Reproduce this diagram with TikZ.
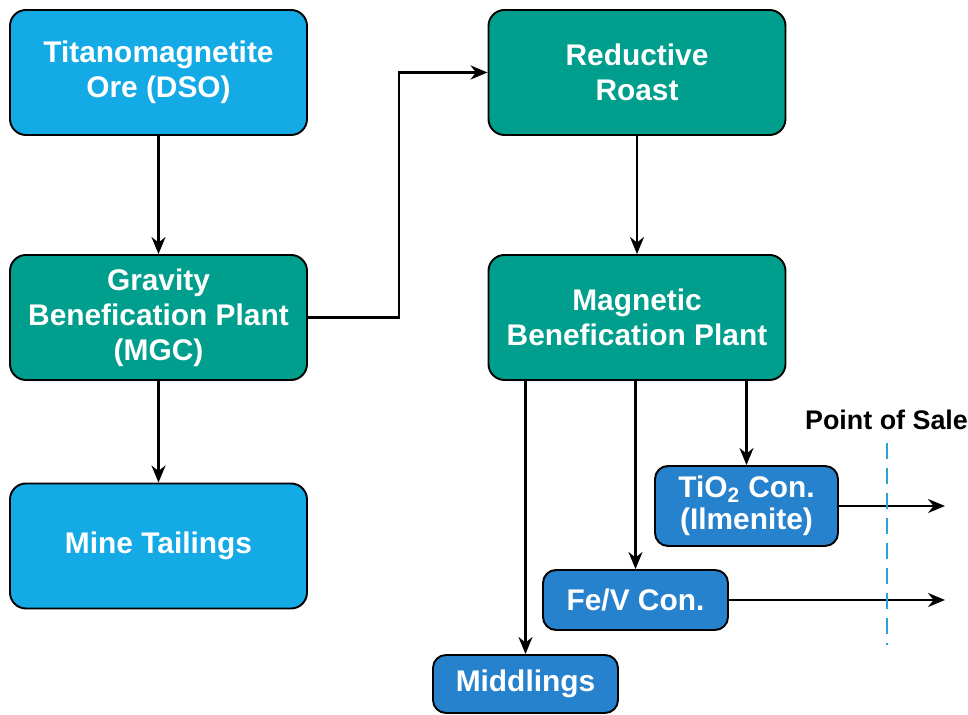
\documentclass[tikz,border=0pt]{standalone}
\usepackage{fontspec}
\setmainfont{Liberation Sans}
\usetikzlibrary{arrows.meta}
\definecolor{oreblue}{RGB}{20,170,230}
\definecolor{plantteal}{RGB}{0,158,140}
\definecolor{prodblue}{RGB}{38,130,204}
\definecolor{saleblue}{RGB}{40,165,215}

\begin{document}
\begin{tikzpicture}[
    >={Stealth[length=3.4mm,width=2.8mm]},
    flow/.style={->, draw=black, line width=1.4pt},
    box/.style={draw=black, line width=1.1pt, rounded corners=0.32cm, text=white,
        font=\fontsize{17}{20}\selectfont\bfseries, align=center, inner sep=0pt},
    bigbox/.style={box, minimum width=5.94cm, minimum height=2.5cm},
    smallbox/.style={box, rounded corners=0.26cm, minimum width=3.7cm}
  ]
    \useasboundingbox (0,0) rectangle (19.36,14.3);
    % left column
    \node[bigbox, fill=oreblue] (ore) at (3.17,12.85) {Titanomagnetite\\Ore (DSO)};
    \node[bigbox, fill=plantteal] (grav) at (3.17,7.95) {Gravity\\Benefication Plant\\(MGC)};
    \node[bigbox, fill=oreblue] (tail) at (3.17,3.38) {Mine Tailings};
    % right column
    \node[bigbox, fill=plantteal] (roast) at (12.74,12.85) {Reductive\\Roast};
    \node[bigbox, fill=plantteal] (mag) at (12.74,7.95) {Magnetic\\Benefication Plant};
    % products
    \node[smallbox, fill=prodblue, minimum height=1.6cm, minimum width=3.66cm,
        font=\fontsize{17}{18.5}\selectfont\bfseries] (tio) at (14.93,4.18) {TiO\textsubscript{2} Con.\\(Ilmenite)};
    \node[smallbox, fill=prodblue, minimum height=1.2cm] (fev) at (12.71,2.3) {Fe/V Con.};
    \node[smallbox, fill=prodblue, minimum height=1.16cm] (mid) at (10.51,0.62) {Middlings};
    \node[inner sep=0pt, font=\fontsize{15.3}{17}\selectfont\bfseries] (sale) at (17.73,5.9) {Point of Sale};
    \coordinate (out) at (18.9,0);
    \coordinate (pos top) at (17.74,5.44);
    \coordinate (pos bot) at (17.74,1.4);

    \draw[flow] (ore) -- (grav);
    \draw[flow] (grav) -- (tail);
    \draw[flow] (grav.east) -- ++(1.82,0) |- (roast.west);
    \draw[flow] (roast) -- (mag);
    \draw[flow] (mag.south -| mid.north) -- (mid.north);
    \draw[flow] (mag.south -| fev.north) -- (fev.north);
    \draw[flow] (mag.south -| tio.north) -- (tio.north);
    \draw[flow] (tio.east) -- (tio.east -| out);
    \draw[flow] (fev.east) -- (fev.east -| out);
    \draw[saleblue, line width=1.6pt, dash pattern=on 0.33cm off 0.17cm] (pos top) -- (pos bot);
\end{tikzpicture}
\end{document}
